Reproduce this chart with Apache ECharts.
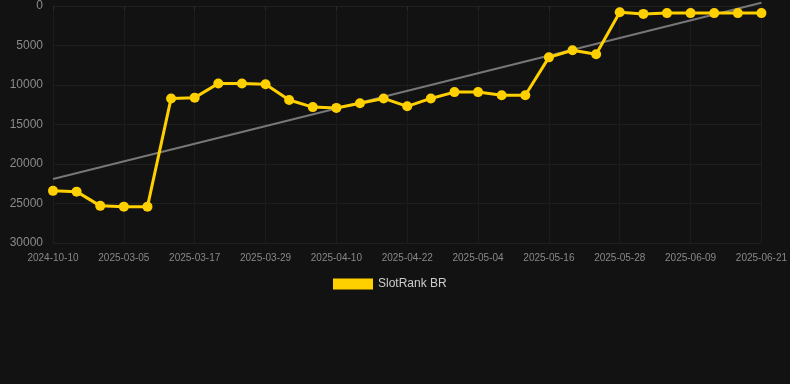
<!DOCTYPE html>
<html>
<head>
<meta charset="utf-8">
<script src="https://cdn.jsdelivr.net/npm/echarts@6/dist/echarts.min.js"></script>
<style>
  html, body { margin: 0; padding: 0; background: #121212; }
  #chart { width: 790px; height: 384px; }
</style>
</head>
<body>
<div id="chart"></div>
<script>
var dates = ["2024-10-10","2025-02-25","2025-03-01","2025-03-05","2025-03-09","2025-03-13","2025-03-17","2025-03-21",
    "2025-03-25","2025-03-29","2025-04-02","2025-04-06","2025-04-10","2025-04-14","2025-04-18","2025-04-22",
    "2025-04-26","2025-04-30","2025-05-04","2025-05-08","2025-05-12","2025-05-16","2025-05-20","2025-05-24",
    "2025-05-28","2025-06-01","2025-06-05","2025-06-09","2025-06-13","2025-06-17","2025-06-21"];
var rankBR = [23400,23500,25300,25400,25400,11700,11600,9800,9800,9900,11900,12800,12900,12300,11700,12700,
    11700,10900,10900,11300,11300,6500,5600,6100,800,1000,900,900,900,900,900];
// trend line, only the two ends
var trendStart = 21900;
var trendEnd = -400;

var trend = dates.map(function (d, i) {
    if (i == 0) return trendStart;
    if (i == dates.length - 1) return trendEnd;
    return null;
});

var option = {
    backgroundColor: '#121212',
    animation: false,
    grid: {
        left: 53,
        right: 28,
        top: 6,
        bottom: 141
    },
    legend: {
        data: ['SlotRank BR'],
        top: 278,
        left: 333,
        padding: 0,
        icon: 'rect',
        itemWidth: 40,
        itemHeight: 11,
        itemGap: 10,
        textStyle: { color: '#cccccc', fontSize: 12, fontFamily: 'Liberation Sans, Arial, sans-serif' }
    },
    xAxis: {
        type: 'category',
        data: dates,
        boundaryGap: false,
        axisLine: { show: false },
        axisTick: { show: true, interval: 2, length: 4, lineStyle: { color: '#2a2a2a' } },
        axisLabel: {
            interval: 2,
            color: '#888888',
            fontSize: 10,
            margin: 10,
            fontFamily: 'Liberation Sans, Arial, sans-serif'
        },
        splitLine: { show: true, interval: 2, lineStyle: { color: '#1c1c1c' } }
    },
    yAxis: {
        type: 'value',
        inverse: true,
        min: 0,
        max: 30000,
        interval: 5000,
        axisLine: { show: false },
        axisTick: { show: false },
        axisLabel: {
            color: '#8a8a8a',
            fontSize: 12,
            margin: 10,
            formatter: function (v) { return String(v); },
            fontFamily: 'Liberation Sans, Arial, sans-serif'
        },
        splitLine: { lineStyle: { color: '#1f1f1f' } }
    },
    series: [
        {
            name: 'trend',
            type: 'line',
            data: trend,
            connectNulls: true,
            clip: false,
            symbol: 'none',
            silent: true,
            lineStyle: { color: '#777777', width: 2 },
            z: 1
        },
        {
            name: 'SlotRank BR',
            type: 'line',
            data: rankBR,
            symbol: 'circle',
            symbolSize: 10,
            itemStyle: { color: '#ffd000' },
            lineStyle: { color: '#ffd000', width: 3 },
            z: 2
        }
    ]
};

var chart = echarts.init(document.getElementById('chart'));
chart.setOption(option);
window.addEventListener('resize', chart.resize);
</script>
</body>
</html>
